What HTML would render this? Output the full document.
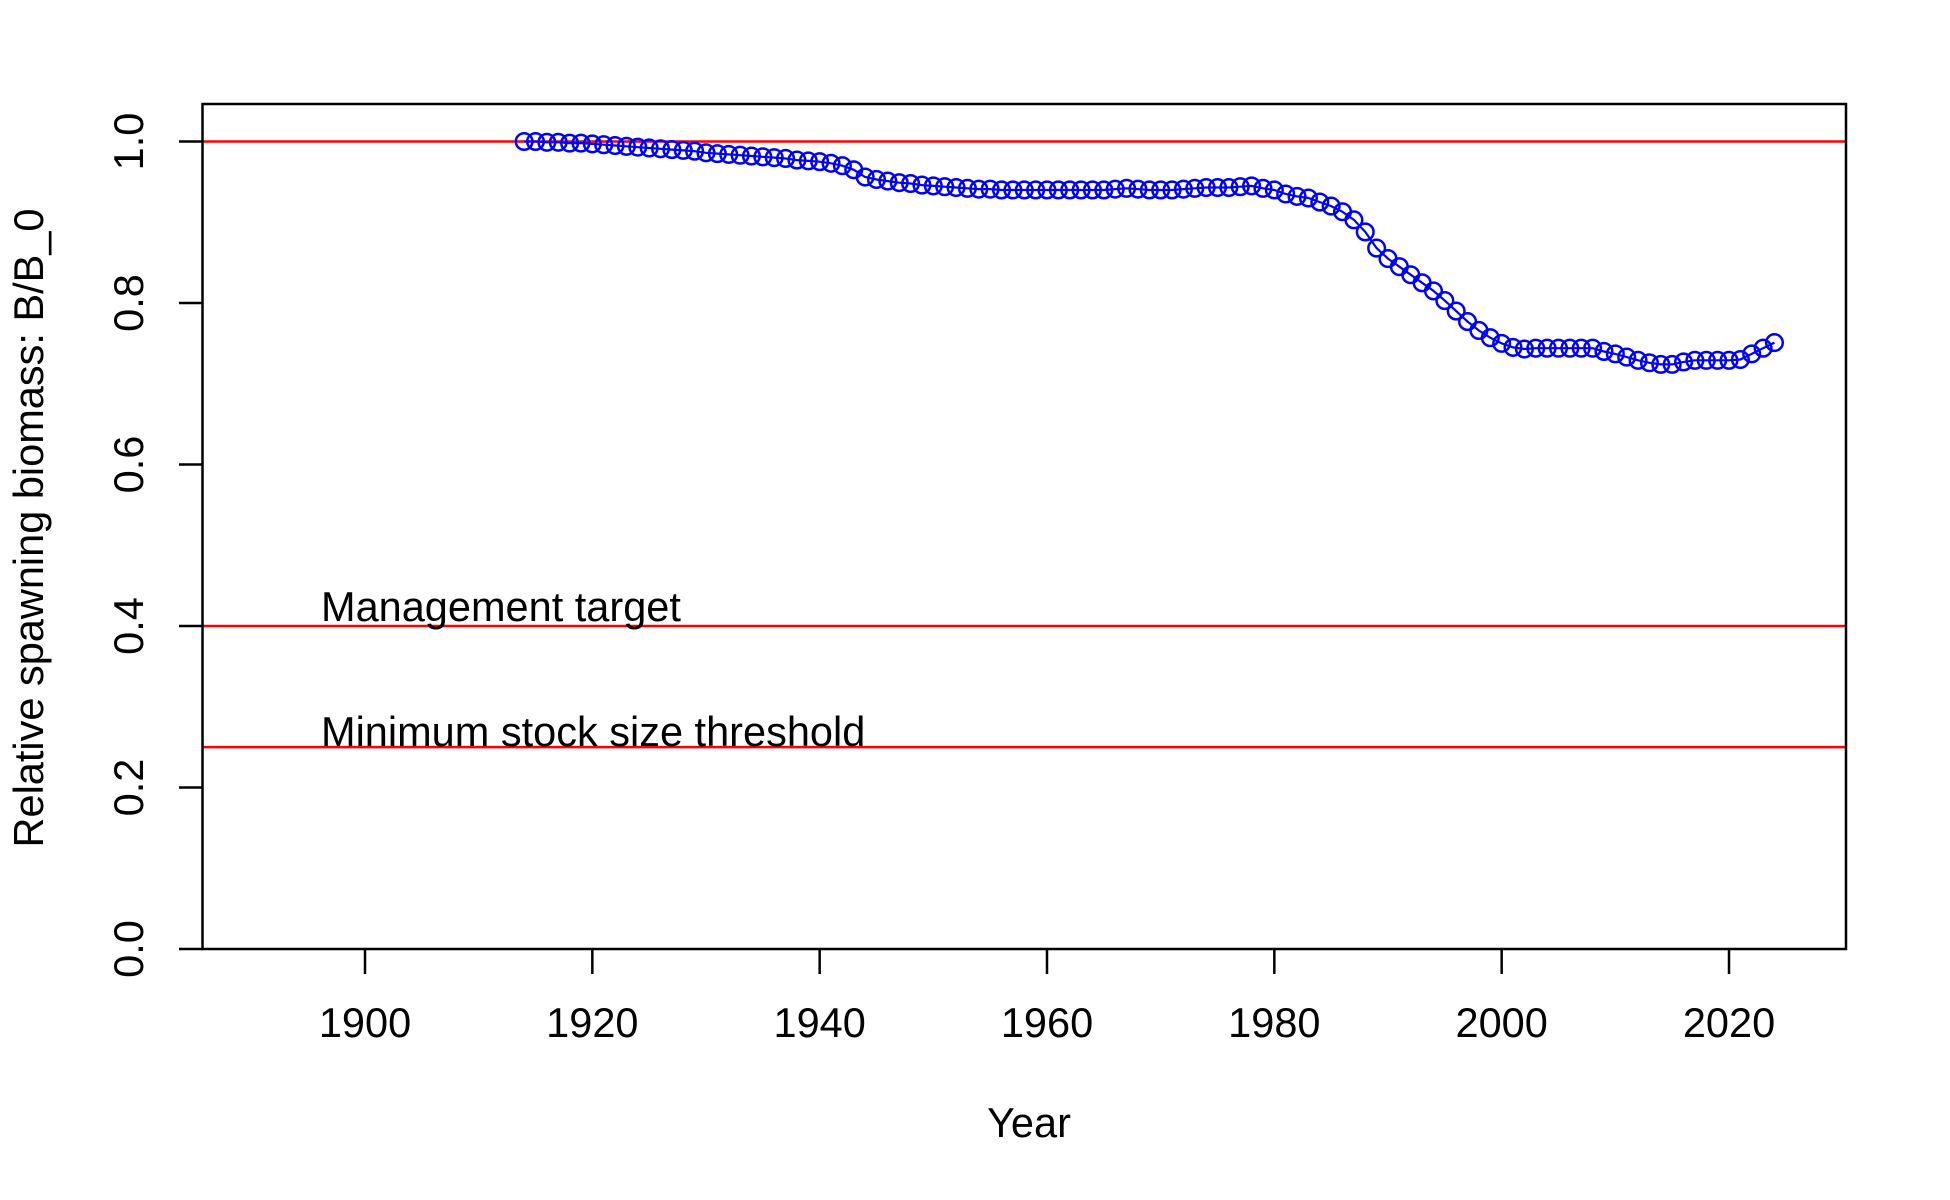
<!DOCTYPE html>
<html><head><meta charset="utf-8"><style>
html,body{margin:0;padding:0;background:#fff;}
svg{display:block;font-family:"Liberation Sans",Arial,sans-serif;}
</style></head><body>
<svg id="chart" width="1950" height="1200" viewBox="0 0 1950 1200" xmlns="http://www.w3.org/2000/svg">
<rect x="0" y="0" width="1950" height="1200" fill="#fff"/>
<g id="refs"></g>
<g id="series"></g>
<g id="axes"></g>
<rect x="202.5" y="104" width="1643.5" height="845" fill="none" stroke="#000" stroke-width="2.5"/>
<text x="1029" y="1137" font-size="41.5" text-anchor="middle">Year</text>
<text transform="translate(43,528) rotate(-90)" font-size="41.5" text-anchor="middle">Relative spawning biomass: B/B_0</text>
</svg>
<script>
const years = [];
for (let y = 1914; y <= 2024; y++) years.push(y);
const ratios = [
1.000,1.000,0.999,0.999,0.998,0.998,0.997,0.996,0.995,0.994,0.993,0.992,0.991,0.990,0.989,0.988,
0.986,0.985,0.984,0.983,0.982,0.981,0.980,0.979,0.977,0.976,0.975,0.973,0.970,0.965,0.956,0.953,
0.951,0.949,0.948,0.946,0.945,0.944,0.943,0.942,0.941,0.941,0.940,0.940,0.940,0.940,0.940,0.940,
0.940,0.940,0.940,0.940,0.941,0.942,0.941,0.940,0.940,0.940,0.941,0.942,0.943,0.943,0.943,0.944,
0.945,0.942,0.940,0.935,0.932,0.930,0.925,0.920,0.913,0.903,0.888,0.868,0.855,0.845,0.835,0.825,
0.815,0.803,0.790,0.777,0.766,0.757,0.750,0.745,0.743,0.744,0.744,0.744,0.744,0.744,0.744,0.740,
0.737,0.733,0.729,0.726,0.724,0.724,0.727,0.729,0.729,0.729,0.729,0.730,0.737,0.744,0.751,0.757];
const refValues = [1.0, 0.4, 0.25];
const refLabels = ["", "Management target", "Minimum stock size threshold"];
const xTicks = [1900,1920,1940,1960,1980,2000,2020];
const yTicks = [0.0,0.2,0.4,0.6,0.8,1.0];
const yTickLabels = ["0.0","0.2","0.4","0.6","0.8","1.0"];

const NS = "http://www.w3.org/2000/svg";
const X = v => 365 + (v - 1900) * (1729 - 365) / 120;
const Y = v => 949 - v * (949 - 141.5);
function mk(tag, attrs, parent){const e=document.createElementNS(NS,tag);for(const k in attrs)e.setAttribute(k,attrs[k]);parent.appendChild(e);return e;}

const refs=document.getElementById('refs');
refValues.forEach((v,i)=>{
  const l=mk('line',{x1:202.5,x2:1846,y1:Y(v),y2:Y(v),stroke:'#f00','stroke-width':2.5},refs);
  
  
  if(refLabels[i]){
    const t=mk('text',{x:321,y:Y(v)-(i===1?5:1),'font-size':41.5},refs);
    t.textContent=refLabels[i];
    
    
  }
});

const ser=document.getElementById('series');
const pts=years.map((y,i)=>X(y).toFixed(1)+','+Y(ratios[i]).toFixed(1)).join(' ');
const pl=mk('polyline',{points:pts,fill:'none',stroke:'#00f','stroke-width':2.2},ser);


years.forEach((y,i)=>{
  const c=mk('circle',{cx:X(y),cy:Y(ratios[i]),r:8.3,fill:'none',stroke:'#00f','stroke-width':2.5},ser);
  
  
});

const ax=document.getElementById('axes');
xTicks.forEach(t=>{
  const l=mk('line',{x1:X(t),x2:X(t),y1:949,y2:974,stroke:'#000','stroke-width':2.5},ax);
  
  
  const tx=mk('text',{x:X(t),y:1037,'font-size':41.5,'text-anchor':'middle'},ax);
  tx.textContent=t;
  
  
});
yTicks.forEach((t,i)=>{
  const l=mk('line',{x1:179,x2:202.5,y1:Y(t),y2:Y(t),stroke:'#000','stroke-width':2.5},ax);
  
  
  const tx=mk('text',{transform:`translate(143,${Y(t)}) rotate(-90)`,'font-size':41.5,'text-anchor':'middle'},ax);
  tx.textContent=yTickLabels[i];
  
  
});
</script>
</body></html>
